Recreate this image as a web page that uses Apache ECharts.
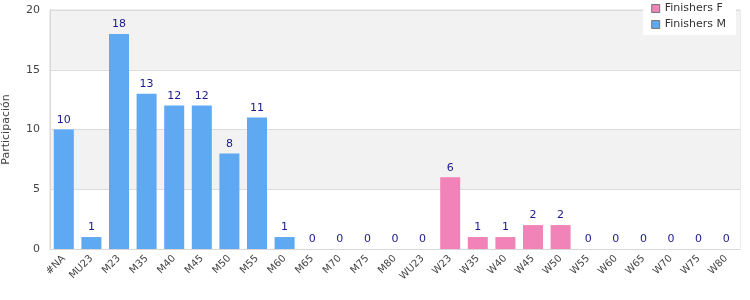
<!DOCTYPE html>
<html>
<head>
<meta charset="utf-8">
<script src="https://cdn.jsdelivr.net/npm/echarts@6/dist/echarts.min.js"></script>
<style>
  html, body { margin: 0; padding: 0; background: #fff; }
  #chart { width: 750px; height: 300px; }
</style>
</head>
<body>
<div id="chart"></div>
<script>
const categories = ['#NA', 'MU23', 'M23', 'M35', 'M40', 'M45', 'M50', 'M55', 'M60', 'M65', 'M70', 'M75', 'M80', 'WU23',
  'W23', 'W35', 'W40', 'W45', 'W50', 'W55', 'W60', 'W65', 'W70', 'W75', 'W80'];
const finishersM = [10, 1, 18, 13, 12, 12, 8, 11, 1, 0, 0, 0, 0, 0,
  null, null, null, null, null, null, null, null, null, null, null];
const finishersF = [null, null, null, null, null, null, null, null, null, null, null, null, null, null,
  6, 1, 1, 2, 2, 0, 0, 0, 0, 0, 0];
const yTicks = { min: 0, max: 20, interval: 5 };

const font = 'DejaVu Sans';
const label = { show: true, position: 'top', color: '#1a1a8c', fontSize: 11, fontFamily: font, distance: 4 };

const chart = echarts.init(document.getElementById('chart'));
chart.setOption({
  animation: false,
  textStyle: { fontFamily: font },
  grid: { left: 50, right: 10, top: 10, bottom: 51, containLabel: false, outerBoundsMode: 'none',
    show: true, borderColor: '#d8d8d8', borderWidth: 1 },
  legend: {
    right: 14, top: 0,
    orient: 'vertical',
    itemWidth: 8, itemHeight: 8, itemGap: 5,
    backgroundColor: '#fff',
    padding: [3, 10, 5, 8],
    textStyle: { fontSize: 11, color: '#333', fontFamily: font },
    data: [
      { name: 'Finishers F', icon: 'rect', itemStyle: { borderColor: '#777', borderWidth: 1 } },
      { name: 'Finishers M', icon: 'rect', itemStyle: { borderColor: '#777', borderWidth: 1 } }
    ]
  },
  xAxis: {
    type: 'category',
    data: categories,
    axisLine: { lineStyle: { color: '#d8d8d8' } },
    axisTick: { show: false },
    axisLabel: { rotate: 45, interval: 0, fontSize: 10, color: '#444', fontFamily: font, margin: 8 }
  },
  yAxis: {
    type: 'value',
    min: yTicks.min, max: yTicks.max, interval: yTicks.interval,
    name: 'Participación',
    nameLocation: 'middle',
    nameGap: 38,
    nameTextStyle: { fontSize: 11, color: '#444', fontFamily: font },
    axisLine: { show: true, lineStyle: { color: '#d8d8d8' } },
    axisTick: { show: false },
    axisLabel: { fontSize: 11, color: '#444', fontFamily: font, margin: 10 },
    splitLine: { lineStyle: { color: '#dcdcdc' } },
    splitArea: { show: true, areaStyle: { color: ['#ffffff', '#f2f2f2'] } }
  },
  series: [
    { name: 'Finishers M', type: 'bar', stack: 'all', data: finishersM, barWidth: 20,
      itemStyle: { color: '#5fa8f2' }, label },
    { name: 'Finishers F', type: 'bar', stack: 'all', data: finishersF, barWidth: 20,
      itemStyle: { color: '#f283b8' }, label }
  ]
});
</script>
</body>
</html>
